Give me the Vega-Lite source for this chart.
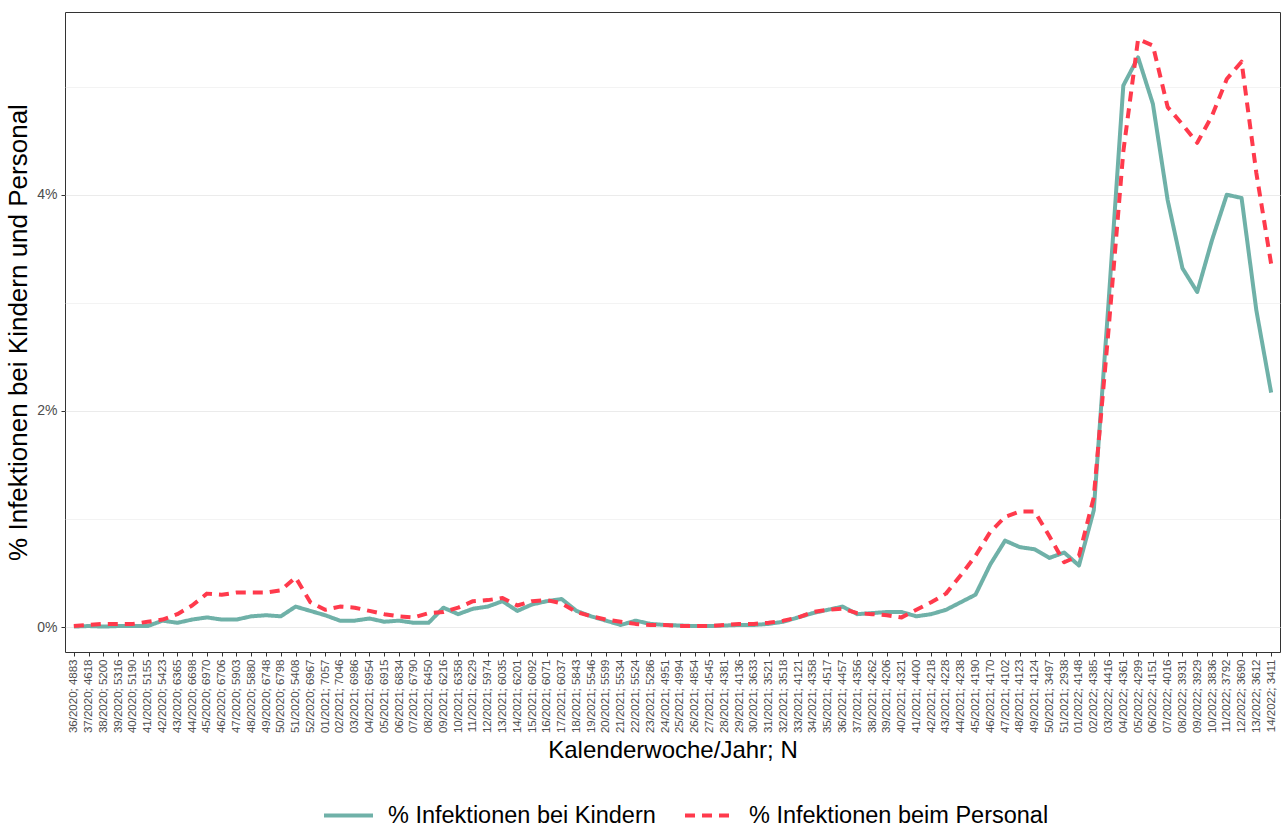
{
  "$schema": "https://vega.github.io/schema/vega-lite/v6.json",
  "width": 1215,
  "height": 640,
  "autosize": {"type": "none"},
  "padding": {"left": 65, "top": 12, "right": 4, "bottom": 175},
  "background": "white",
  "config": {
    "font": "Liberation Sans",
    "view": {"stroke": "#333333", "strokeWidth": 1}
  },
  "data": {
    "values": [
      {"kw": "36/2020; 4883", "% Infektionen bei Kindern": 0.005, "% Infektionen beim Personal": 0.01},
      {"kw": "37/2020; 4618", "% Infektionen bei Kindern": 0.01, "% Infektionen beim Personal": 0.02},
      {"kw": "38/2020; 5200", "% Infektionen bei Kindern": 0.005, "% Infektionen beim Personal": 0.03},
      {"kw": "39/2020; 5316", "% Infektionen bei Kindern": 0.01, "% Infektionen beim Personal": 0.03},
      {"kw": "40/2020; 5190", "% Infektionen bei Kindern": 0.01, "% Infektionen beim Personal": 0.03},
      {"kw": "41/2020; 5155", "% Infektionen bei Kindern": 0.01, "% Infektionen beim Personal": 0.05},
      {"kw": "42/2020; 5423", "% Infektionen bei Kindern": 0.06, "% Infektionen beim Personal": 0.07},
      {"kw": "43/2020; 6365", "% Infektionen bei Kindern": 0.04, "% Infektionen beim Personal": 0.12},
      {"kw": "44/2020; 6698", "% Infektionen bei Kindern": 0.07, "% Infektionen beim Personal": 0.20},
      {"kw": "45/2020; 6970", "% Infektionen bei Kindern": 0.09, "% Infektionen beim Personal": 0.31},
      {"kw": "46/2020; 6706", "% Infektionen bei Kindern": 0.07, "% Infektionen beim Personal": 0.30},
      {"kw": "47/2020; 5903", "% Infektionen bei Kindern": 0.07, "% Infektionen beim Personal": 0.32},
      {"kw": "48/2020; 5880", "% Infektionen bei Kindern": 0.10, "% Infektionen beim Personal": 0.32},
      {"kw": "49/2020; 6748", "% Infektionen bei Kindern": 0.11, "% Infektionen beim Personal": 0.32},
      {"kw": "50/2020; 6798", "% Infektionen bei Kindern": 0.10, "% Infektionen beim Personal": 0.34},
      {"kw": "51/2020; 5408", "% Infektionen bei Kindern": 0.19, "% Infektionen beim Personal": 0.46},
      {"kw": "52/2020; 6967", "% Infektionen bei Kindern": 0.15, "% Infektionen beim Personal": 0.23},
      {"kw": "01/2021; 7057", "% Infektionen bei Kindern": 0.11, "% Infektionen beim Personal": 0.16},
      {"kw": "02/2021; 7046", "% Infektionen bei Kindern": 0.06, "% Infektionen beim Personal": 0.19},
      {"kw": "03/2021; 6986", "% Infektionen bei Kindern": 0.06, "% Infektionen beim Personal": 0.18},
      {"kw": "04/2021; 6954", "% Infektionen bei Kindern": 0.08, "% Infektionen beim Personal": 0.15},
      {"kw": "05/2021; 6915", "% Infektionen bei Kindern": 0.05, "% Infektionen beim Personal": 0.12},
      {"kw": "06/2021; 6834", "% Infektionen bei Kindern": 0.06, "% Infektionen beim Personal": 0.10},
      {"kw": "07/2021; 6790", "% Infektionen bei Kindern": 0.04, "% Infektionen beim Personal": 0.09},
      {"kw": "08/2021; 6450", "% Infektionen bei Kindern": 0.04, "% Infektionen beim Personal": 0.13},
      {"kw": "09/2021; 6216", "% Infektionen bei Kindern": 0.18, "% Infektionen beim Personal": 0.14},
      {"kw": "10/2021; 6358", "% Infektionen bei Kindern": 0.12, "% Infektionen beim Personal": 0.18},
      {"kw": "11/2021; 6229", "% Infektionen bei Kindern": 0.17, "% Infektionen beim Personal": 0.24},
      {"kw": "12/2021; 5974", "% Infektionen bei Kindern": 0.19, "% Infektionen beim Personal": 0.25},
      {"kw": "13/2021; 6035", "% Infektionen bei Kindern": 0.24, "% Infektionen beim Personal": 0.27},
      {"kw": "14/2021; 6201", "% Infektionen bei Kindern": 0.15, "% Infektionen beim Personal": 0.20},
      {"kw": "15/2021; 6092", "% Infektionen bei Kindern": 0.21, "% Infektionen beim Personal": 0.24},
      {"kw": "16/2021; 6071", "% Infektionen bei Kindern": 0.24, "% Infektionen beim Personal": 0.25},
      {"kw": "17/2021; 6037", "% Infektionen bei Kindern": 0.26, "% Infektionen beim Personal": 0.22},
      {"kw": "18/2021; 5843", "% Infektionen bei Kindern": 0.15, "% Infektionen beim Personal": 0.14},
      {"kw": "19/2021; 5546", "% Infektionen bei Kindern": 0.10, "% Infektionen beim Personal": 0.10},
      {"kw": "20/2021; 5599", "% Infektionen bei Kindern": 0.06, "% Infektionen beim Personal": 0.07},
      {"kw": "21/2021; 5534", "% Infektionen bei Kindern": 0.02, "% Infektionen beim Personal": 0.05},
      {"kw": "22/2021; 5524", "% Infektionen bei Kindern": 0.06, "% Infektionen beim Personal": 0.03},
      {"kw": "23/2021; 5286", "% Infektionen bei Kindern": 0.03, "% Infektionen beim Personal": 0.02},
      {"kw": "24/2021; 4951", "% Infektionen bei Kindern": 0.02, "% Infektionen beim Personal": 0.02},
      {"kw": "25/2021; 4994", "% Infektionen bei Kindern": 0.015, "% Infektionen beim Personal": 0.01},
      {"kw": "26/2021; 4854", "% Infektionen bei Kindern": 0.01, "% Infektionen beim Personal": 0.01},
      {"kw": "27/2021; 4545", "% Infektionen bei Kindern": 0.01, "% Infektionen beim Personal": 0.01},
      {"kw": "28/2021; 4381", "% Infektionen bei Kindern": 0.015, "% Infektionen beim Personal": 0.02},
      {"kw": "29/2021; 4136", "% Infektionen bei Kindern": 0.02, "% Infektionen beim Personal": 0.03},
      {"kw": "30/2021; 3633", "% Infektionen bei Kindern": 0.02, "% Infektionen beim Personal": 0.03},
      {"kw": "31/2021; 3521", "% Infektionen bei Kindern": 0.03, "% Infektionen beim Personal": 0.04},
      {"kw": "32/2021; 3518", "% Infektionen bei Kindern": 0.05, "% Infektionen beim Personal": 0.06},
      {"kw": "33/2021; 4121", "% Infektionen bei Kindern": 0.09, "% Infektionen beim Personal": 0.09},
      {"kw": "34/2021; 4358", "% Infektionen bei Kindern": 0.13, "% Infektionen beim Personal": 0.14},
      {"kw": "35/2021; 4517", "% Infektionen bei Kindern": 0.16, "% Infektionen beim Personal": 0.16},
      {"kw": "36/2021; 4457", "% Infektionen bei Kindern": 0.19, "% Infektionen beim Personal": 0.17},
      {"kw": "37/2021; 4356", "% Infektionen bei Kindern": 0.12, "% Infektionen beim Personal": 0.13},
      {"kw": "38/2021; 4262", "% Infektionen bei Kindern": 0.13, "% Infektionen beim Personal": 0.12},
      {"kw": "39/2021; 4206", "% Infektionen bei Kindern": 0.14, "% Infektionen beim Personal": 0.11},
      {"kw": "40/2021; 4321", "% Infektionen bei Kindern": 0.14, "% Infektionen beim Personal": 0.09},
      {"kw": "41/2021; 4400", "% Infektionen bei Kindern": 0.10, "% Infektionen beim Personal": 0.16},
      {"kw": "42/2021; 4218", "% Infektionen bei Kindern": 0.12, "% Infektionen beim Personal": 0.23},
      {"kw": "43/2021; 4228", "% Infektionen bei Kindern": 0.16, "% Infektionen beim Personal": 0.31},
      {"kw": "44/2021; 4238", "% Infektionen bei Kindern": 0.23, "% Infektionen beim Personal": 0.48},
      {"kw": "45/2021; 4190", "% Infektionen bei Kindern": 0.30, "% Infektionen beim Personal": 0.66},
      {"kw": "46/2021; 4170", "% Infektionen bei Kindern": 0.58, "% Infektionen beim Personal": 0.88},
      {"kw": "47/2021; 4102", "% Infektionen bei Kindern": 0.80, "% Infektionen beim Personal": 1.02},
      {"kw": "48/2021; 4123", "% Infektionen bei Kindern": 0.74, "% Infektionen beim Personal": 1.07},
      {"kw": "49/2021; 4124", "% Infektionen bei Kindern": 0.72, "% Infektionen beim Personal": 1.07},
      {"kw": "50/2021; 3497", "% Infektionen bei Kindern": 0.64, "% Infektionen beim Personal": 0.84},
      {"kw": "51/2021; 2938", "% Infektionen bei Kindern": 0.69, "% Infektionen beim Personal": 0.60},
      {"kw": "01/2022; 4148", "% Infektionen bei Kindern": 0.57, "% Infektionen beim Personal": 0.66},
      {"kw": "02/2022; 4385", "% Infektionen bei Kindern": 1.08, "% Infektionen beim Personal": 1.2},
      {"kw": "03/2022; 4416", "% Infektionen bei Kindern": 3.0, "% Infektionen beim Personal": 2.75},
      {"kw": "04/2022; 4361", "% Infektionen bei Kindern": 5.01, "% Infektionen beim Personal": 4.4},
      {"kw": "05/2022; 4299", "% Infektionen bei Kindern": 5.27, "% Infektionen beim Personal": 5.44},
      {"kw": "06/2022; 4151", "% Infektionen bei Kindern": 4.84, "% Infektionen beim Personal": 5.38},
      {"kw": "07/2022; 4016", "% Infektionen bei Kindern": 3.95, "% Infektionen beim Personal": 4.81},
      {"kw": "08/2022; 3931", "% Infektionen bei Kindern": 3.32, "% Infektionen beim Personal": 4.65},
      {"kw": "09/2022; 3929", "% Infektionen bei Kindern": 3.10, "% Infektionen beim Personal": 4.48},
      {"kw": "10/2022; 3836", "% Infektionen bei Kindern": 3.58, "% Infektionen beim Personal": 4.73},
      {"kw": "11/2022; 3792", "% Infektionen bei Kindern": 4.00, "% Infektionen beim Personal": 5.07},
      {"kw": "12/2022; 3690", "% Infektionen bei Kindern": 3.97, "% Infektionen beim Personal": 5.23},
      {"kw": "13/2022; 3612", "% Infektionen bei Kindern": 2.93, "% Infektionen beim Personal": 4.2},
      {"kw": "14/2022; 3411", "% Infektionen bei Kindern": 2.17, "% Infektionen beim Personal": 3.36}
    ]
  },
  "transform": [
    {"fold": ["% Infektionen bei Kindern", "% Infektionen beim Personal"], "as": ["serie", "wert"]}
  ],
  "mark": {"type": "line", "strokeWidth": 4, "strokeCap": "butt", "strokeJoin": "round"},
  "encoding": {
    "x": {
      "field": "kw",
      "type": "ordinal",
      "sort": null,
      "scale": {"type": "point", "padding": 0.6},
      "axis": {
        "title": "Kalenderwoche/Jahr; N",
        "titleFontSize": 24,
        "titleFontWeight": "normal",
        "titleColor": "#000000",
        "titlePadding": 6,
        "labelAngle": -90,
        "labelFontSize": 11.5,
        "labelColor": "#4D4D4D",
        "labelPadding": 3,
        "tickColor": "#333333",
        "tickSize": 4,
        "domain": false,
        "grid": false,
        "labelOverlap": false
      }
    },
    "y": {
      "field": "wert",
      "type": "quantitative",
      "scale": {"domain": [-0.23, 5.69], "nice": false, "zero": false},
      "axis": {
        "title": "% Infektionen bei Kindern und Personal",
        "titleFontSize": 26,
        "titleFontWeight": "normal",
        "titleColor": "#000000",
        "titlePadding": 5,
        "values": [0, 1, 2, 3, 4, 5],
        "labelExpr": "datum.value % 2 === 0 ? datum.value + '%' : ''",
        "labelFontSize": 14,
        "labelColor": "#4D4D4D",
        "labelPadding": 4,
        "tickColor": "#333333",
        "tickSize": 4,
        "tickOpacity": {"condition": {"test": "datum.value % 2 === 1", "value": 0}, "value": 1},
        "gridColor": "#EBEBEB",
        "gridWidth": {"condition": {"test": "datum.value % 2 === 1", "value": 0.6}, "value": 1.1},
        "domain": false
      }
    },
    "color": {
      "field": "serie",
      "type": "nominal",
      "scale": {"domain": ["% Infektionen bei Kindern", "% Infektionen beim Personal"], "range": ["#6FB1A8", "#FF3A4C"]},
      "legend": {
        "title": null,
        "orient": "none",
        "direction": "horizontal",
        "legendX": 257,
        "legendY": 777,
        "symbolType": "stroke",
        "symbolSize": 2400,
        "symbolStrokeWidth": 4,
        "labelFontSize": 23.5,
        "labelLimit": 500,
        "labelColor": "#000000",
        "labelOffset": 13,
        "columnPadding": 21,
        "padding": 0
      }
    },
    "strokeDash": {
      "field": "serie",
      "type": "nominal",
      "scale": {"domain": ["% Infektionen bei Kindern", "% Infektionen beim Personal"], "range": [[1, 0], [10, 7]]},
      "legend": {
        "title": null,
        "orient": "none",
        "direction": "horizontal",
        "legendX": 257,
        "legendY": 777,
        "symbolType": "stroke",
        "symbolSize": 2400,
        "symbolStrokeWidth": 4,
        "labelFontSize": 23.5,
        "labelLimit": 500,
        "labelColor": "#000000",
        "labelOffset": 13,
        "columnPadding": 21,
        "padding": 0
      }
    }
  }
}
